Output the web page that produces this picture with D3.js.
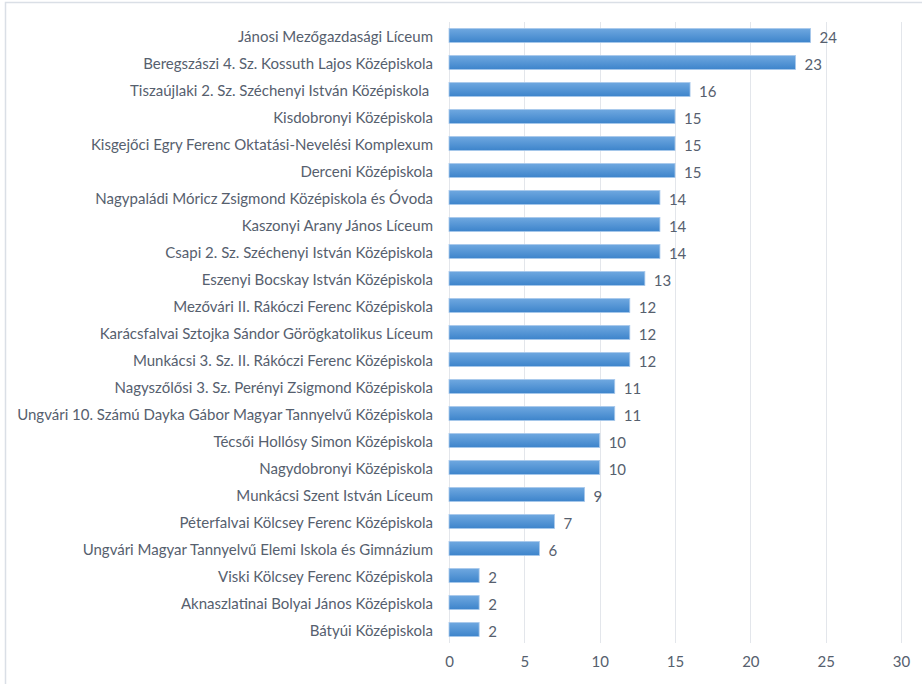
<!DOCTYPE html>
<html>
<head>
<meta charset="utf-8">
<script src="https://cdn.jsdelivr.net/npm/d3@7"></script>
<style>
  body { margin: 0; background: #fff; }
  svg { display: block; }
</style>
</head>
<body>
<div class="chart"></div>
<script>
const schools = [
  'Jánosi Mezőgazdasági Líceum',
  'Beregszászi 4. Sz. Kossuth Lajos Középiskola',
  'Tiszaújlaki 2. Sz. Széchenyi István Középiskola ',
  'Kisdobronyi Középiskola',
  'Kisgejőci Egry Ferenc Oktatási-Nevelési Komplexum',
  'Derceni Középiskola',
  'Nagypaládi Móricz Zsigmond Középiskola és Óvoda',
  'Kaszonyi Arany János Líceum',
  'Csapi 2. Sz. Széchenyi István Középiskola',
  'Eszenyi Bocskay István Középiskola',
  'Mezővári II. Rákóczi Ferenc Középiskola',
  'Karácsfalvai Sztojka Sándor Görögkatolikus Líceum',
  'Munkácsi 3. Sz. II. Rákóczi Ferenc Középiskola',
  'Nagyszőlősi 3. Sz. Perényi Zsigmond Középiskola',
  'Ungvári 10. Számú Dayka Gábor Magyar Tannyelvű Középiskola',
  'Técsői Hollósy Simon Középiskola',
  'Nagydobronyi Középiskola',
  'Munkácsi Szent István Líceum',
  'Péterfalvai Kölcsey Ferenc Középiskola',
  'Ungvári Magyar Tannyelvű Elemi Iskola és Gimnázium',
  'Viski Kölcsey Ferenc Középiskola',
  'Aknaszlatinai Bolyai János Középiskola',
  'Bátyúi Középiskola'
];
const counts = [24, 23, 16, 15, 15, 15, 14, 14, 14, 13, 12, 12, 12, 11, 11, 10, 10, 9, 7, 6, 2, 2, 2];
const xTicks = [0, 5, 10, 15, 20, 25, 30];

const width = 922;
const height = 684;
const margin = {top: 22, right: 21, bottom: 41, left: 449};
const textColor = '#56606e';
const font = 'Lato, "Open Sans", sans-serif';
const fontSize = '15px';

const svg = d3.select('.chart')
  .append('svg')
  .attr('width', width)
  .attr('height', height);

// chart frame (only top & left edge visible in the picture)
svg.append('rect')
  .attr('x', 5.5)
  .attr('y', 2.5)
  .attr('width', width + 10)
  .attr('height', height + 10)
  .attr('fill', 'none')
  .attr('stroke', '#dadfe6')
  .attr('stroke-width', 1.5);

const defs = svg.append('defs');
const grad = defs.append('linearGradient')
  .attr('id', 'barGrad')
  .attr('x1', 0).attr('y1', 0).attr('x2', 0).attr('y2', 1);
grad.append('stop').attr('offset', '0%').attr('stop-color', '#6fa8e0');
grad.append('stop').attr('offset', '100%').attr('stop-color', '#3d84cb');

const x = d3.scaleLinear()
  .domain([0, 30])
  .range([margin.left, width - margin.right]);

const y = d3.scaleBand()
  .domain(schools)
  .range([margin.top, height - margin.bottom])
  .paddingInner(0.48)
  .paddingOuter(0.24);

// vertical gridlines
svg.append('g')
  .selectAll('line')
  .data(xTicks)
  .join('line')
  .attr('x1', d => Math.round(x(d)) + 0.5)
  .attr('x2', d => Math.round(x(d)) + 0.5)
  .attr('y1', margin.top)
  .attr('y2', height - margin.bottom)
  .attr('stroke', '#e3e6eb')
  .attr('stroke-width', 1);

// bars
svg.append('g')
  .selectAll('rect')
  .data(schools)
  .join('rect')
  .attr('x', x(0))
  .attr('y', d => y(d))
  .attr('width', (d, i) => x(counts[i]) - x(0))
  .attr('height', y.bandwidth())
  .attr('fill', 'url(#barGrad)')
  .attr('stroke', '#a9c9ec')
  .attr('stroke-width', 0.8);

// category labels
svg.append('g')
  .selectAll('text')
  .data(schools)
  .join('text')
  .attr('x', 433)
  .attr('y', d => y(d) + y.bandwidth() / 2)
  .attr('text-anchor', 'end')
  .attr('dominant-baseline', 'central')
  .attr('fill', textColor)
  .style('font-family', font)
  .style('font-size', fontSize)
  .style('white-space', 'pre')
  .text(d => d);

// value labels
svg.append('g')
  .selectAll('text')
  .data(schools)
  .join('text')
  .attr('x', (d, i) => x(counts[i]) + 9)
  .attr('y', d => y(d) + y.bandwidth() / 2 + 1)
  .attr('dominant-baseline', 'central')
  .attr('fill', textColor)
  .style('font-family', font)
  .style('font-size', fontSize)
  .text((d, i) => counts[i]);

// x axis tick labels
const xAxis = d3.axisBottom(x)
  .tickValues(xTicks)
  .tickSize(0)
  .tickPadding(13);

const axisG = svg.append('g')
  .attr('transform', `translate(0,${height - margin.bottom})`)
  .call(xAxis);
axisG.select('.domain').remove();
axisG.selectAll('text')
  .attr('fill', textColor)
  .style('font-family', font)
  .style('font-size', fontSize);
</script>
</body>
</html>
